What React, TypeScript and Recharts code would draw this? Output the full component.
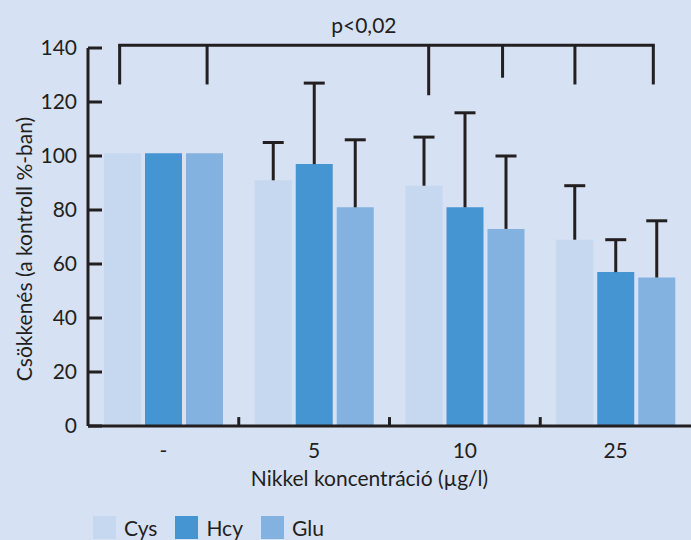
import { Bar, BarChart, Legend, ReferenceDot, ReferenceLine, XAxis, YAxis } from "recharts";

const categories = ["-", "5", "10", "25"];
const cys = [101, 91, 89, 69];
const hcy = [101, 97, 81, 57];
const glu = [101, 81, 73, 55];
// upper error (SD) above each bar
const cysErr = [0, 14, 18, 20];
const hcyErr = [0, 30, 35, 12];
const gluErr = [0, 25, 27, 21];
const yTicks = [0, 20, 40, 60, 80, 100, 120, 140];

const seriesNames = ["Cys", "Hcy", "Glu"];
const seriesColors = ["#c6d8ef", "#4495d1", "#83b1e0"];

// significance bracket, in category units on a hidden numeric axis (0..4)
const bracketLevel = 141;
const bracketX = [0.21, 0.79, 2.26, 2.75, 3.23, 3.75];
const bracketEnd = [126.5, 126.5, 122.5, 129, 126.5, 126.5];
const pLabel = "p<0,02";
const pLabelX = 1.83;
const pLabelY = 148.5;
const boundaries = [1, 2, 3];

const data = categories.map((name, i) => ({
  name,
  cys: cys[i],
  cysErr: cysErr[i],
  hcy: hcy[i],
  hcyErr: hcyErr[i],
  glu: glu[i],
  gluErr: gluErr[i],
}));

const ink = "#231f20";
const bg = "#d6e1f3";
const font = "Lato, 'Open Sans', sans-serif";

function Whisker(props: any) {
  const { x, y, width, height } = props;
  if (!height || height <= 0) return <g />;
  const cx = x + width / 2;
  return (
    <g stroke={ink} strokeWidth={3}>
      <line x1={cx} x2={cx} y1={y + height} y2={y} />
      <line x1={cx - 10.5} x2={cx + 10.5} y1={y} y2={y} />
    </g>
  );
}

function LegendBox() {
  return (
    <div style={{ display: "flex", paddingLeft: 93, paddingTop: 16, fontFamily: font, fontSize: 21, lineHeight: "23px", color: ink }}>
      {seriesNames.map((n, i) => (
        <div key={n} style={{ display: "flex", alignItems: "center", marginRight: 18 }}>
          <span style={{ display: "inline-block", width: 23, height: 23, background: seriesColors[i], marginRight: 8 }} />
          {n}
        </div>
      ))}
    </div>
  );
}

export default function App() {
  return (
    <div style={{ width: 691, height: 540, overflow: "hidden", background: bg }}>
      <style>{`html,body{margin:0;padding:0;background:${bg};overflow:hidden}`}</style>
      <BarChart
        width={691}
        height={540}
        data={data}
        margin={{ top: 48, right: 0, bottom: 0, left: 0 }}
        barCategoryGap={16}
        barGap={4}
      >
        <XAxis
          dataKey="name"
          height={74}
          tickLine={false}
          tickSize={0}
          tickMargin={17}
          interval={0}
          axisLine={{ stroke: ink, strokeWidth: 3 }}
          tick={{ fill: ink, fontSize: 21, fontFamily: font }}
          label={{
            content: ({ viewBox }: any) => (
              <text x={viewBox.x + viewBox.width / 2 - 20} y={viewBox.y + 60} textAnchor="middle" fill={ink} fontSize={21} fontFamily={font}>
                Nikkel koncentráció (µg/l)
              </text>
            ),
          }}
        />
        <XAxis xAxisId="n" dataKey="none" type="number" domain={[0, 4]} hide allowDataOverflow />
        <YAxis
          domain={[0, 140]}
          ticks={yTicks}
          interval={0}
          width={88}
          tickSize={-14}
          tickMargin={25}
          allowDataOverflow
          axisLine={{ stroke: ink, strokeWidth: 3 }}
          tickLine={{ stroke: ink, strokeWidth: 3 }}
          tick={{ fill: ink, fontSize: 21, fontFamily: font }}
          label={{
            content: ({ viewBox }: any) => {
              const cy = viewBox.y + viewBox.height / 2 + 12;
              return (
                <text x={32} y={cy} transform={`rotate(-90 32 ${cy})`} textAnchor="middle" fill={ink} fontSize={21} fontFamily={font}>
                  Csökkenés (a kontroll %-ban)
                </text>
              );
            },
          }}
        />
        <Legend verticalAlign="bottom" align="left" height={40} wrapperStyle={{ left: 0, bottom: 0, width: 691, height: 40 }} content={<LegendBox />} />

        <Bar dataKey="cys" name="Cys" stackId="cys" fill={seriesColors[0]} isAnimationActive={false} />
        <Bar dataKey="cysErr" stackId="cys" fill="none" legendType="none" shape={<Whisker />} isAnimationActive={false} />
        <Bar dataKey="hcy" name="Hcy" stackId="hcy" fill={seriesColors[1]} isAnimationActive={false} />
        <Bar dataKey="hcyErr" stackId="hcy" fill="none" legendType="none" shape={<Whisker />} isAnimationActive={false} />
        <Bar dataKey="glu" name="Glu" stackId="glu" fill={seriesColors[2]} isAnimationActive={false} />
        <Bar dataKey="gluErr" stackId="glu" fill="none" legendType="none" shape={<Whisker />} isAnimationActive={false} />

        {boundaries.map((b) => (
          <ReferenceLine key={`b${b}`} xAxisId="n" segment={[{ x: b, y: 0 }, { x: b, y: 3.3 }]} stroke={ink} strokeWidth={3} ifOverflow="visible" />
        ))}
        <ReferenceLine
          xAxisId="n"
          segment={[{ x: bracketX[0], y: bracketLevel }, { x: bracketX[bracketX.length - 1], y: bracketLevel }]}
          stroke={ink}
          strokeWidth={3}
          strokeLinecap="square"
          ifOverflow="visible"
        />
        {bracketX.map((bx, i) => (
          <ReferenceLine key={`k${i}`} xAxisId="n" segment={[{ x: bx, y: bracketLevel }, { x: bx, y: bracketEnd[i] }]} stroke={ink} strokeWidth={3} ifOverflow="visible" />
        ))}
        <ReferenceDot
          xAxisId="n"
          x={pLabelX}
          y={pLabelY}
          r={0}
          fill="none"
          stroke="none"
          ifOverflow="visible"
          label={{ value: pLabel, position: "center", fill: ink, fontSize: 21, fontFamily: font }}
        />
      </BarChart>
    </div>
  );
}
